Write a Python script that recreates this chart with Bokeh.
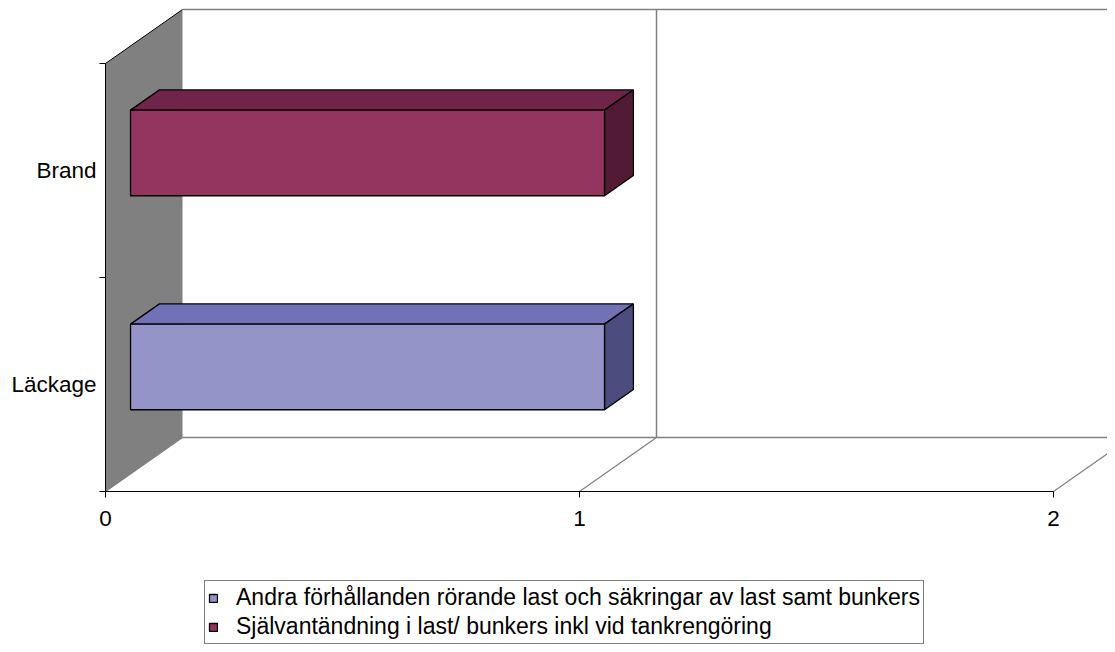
from bokeh.plotting import figure
from bokeh.models import Range1d, FixedTicker, LinearAxis, Legend, LegendItem
from bokeh.embed import file_html
from bokeh.resources import INLINE

# ---------------- data ----------------
categories = ["Läckage", "Brand"]
series_names = [
    "Andra förhållanden rörande last och säkringar av last samt bunkers",
    "Självantändning i last/ bunkers inkl vid tankrengöring",
]
andra_values = [1, 0]
sjalv_values = [0, 1]
x_ticks = [0, 1, 2]
x_tick_labels = ["0", "1", "2"]

# ---------------- style ----------------
front_colors = ["#9494C9", "#943560"]
top_colors = ["#7171B6", "#702448"]
side_colors = ["#4C4C7F", "#531A35"]
FONT = "Liberation Sans"

W, H = 1107, 644
ORIGIN_X, ORIGIN_Y = 105, 491           # pixel position of value 0 / category floor
PX_X, PX_Y = 474.0, 214.0
x_start, x_end = -ORIGIN_X / PX_X, (W - ORIGIN_X) / PX_X
y_start, y_end = (ORIGIN_Y - H) / PX_Y, ORIGIN_Y / PX_Y
DX, DY = 77 / PX_X, 54 / PX_Y          # full depth of the 3D box in data units
D0, D1 = 0.325, 0.70                    # bar depth position (fraction of depth)
HALF = 0.2                              # half bar height in category units
n_cat = len(categories)
xmax = x_ticks[-1]

p = figure(width=W, height=H, x_range=Range1d(x_start, x_end), y_range=Range1d(y_start, y_end),
           output_backend="svg", toolbar_location=None,
           min_border_left=0, min_border_bottom=0, min_border_top=0, min_border_right=0,
           x_axis_type=None, y_axis_type=None)
p.outline_line_color = None
p.background_fill_color = "white"

# left wall
p.patch([0, 0, DX, DX], [0, n_cat, n_cat + DY, DY], fill_color="#808080", line_color=None)
p.line([0, DX], [n_cat, n_cat + DY], line_color="black", line_width=1)

# back wall edges and gridlines
p.segment(x0=[DX], y0=[n_cat + DY], x1=[xmax + DX], y1=[n_cat + DY], line_color="#808080", line_width=1.5)
p.segment(x0=[DX], y0=[DY], x1=[xmax + DX], y1=[DY], line_color="#808080", line_width=1.5)
gx = [t + DX for t in x_ticks if t > 0]
p.segment(x0=gx, y0=[DY] * len(gx), x1=gx, y1=[n_cat + DY] * len(gx), line_color="#808080", line_width=1.5)
# floor diagonals
p.segment(x0=x_ticks, y0=[0] * len(x_ticks), x1=[t + DX for t in x_ticks], y1=[DY] * len(x_ticks),
          line_color="#808080", line_width=1.2)

# bars
front_renderers = []
for s, vals in enumerate([andra_values, sjalv_values]):
    fx, fy, tx, ty, sx, sy = [], [], [], [], [], []
    for i, v in enumerate(vals):
        if v <= 0:
            continue
        b, t = i + 0.5 - HALF, i + 0.5 + HALF
        ox0, oy0, ox1, oy1 = D0 * DX, D0 * DY, D1 * DX, D1 * DY
        fx.append([0 + ox0, v + ox0, v + ox0, 0 + ox0])
        fy.append([b + oy0, b + oy0, t + oy0, t + oy0])
        tx.append([0 + ox0, v + ox0, v + ox1, 0 + ox1])
        ty.append([t + oy0, t + oy0, t + oy1, t + oy1])
        sx.append([v + ox0, v + ox1, v + ox1, v + ox0])
        sy.append([b + oy0, b + oy1, t + oy1, t + oy0])
    p.patches(tx, ty, fill_color=top_colors[s], line_color="black", line_width=1.3)
    p.patches(sx, sy, fill_color=side_colors[s], line_color="black", line_width=1.3)
    r = p.patches(fx, fy, fill_color=front_colors[s], line_color="black", line_width=1.3)
    front_renderers.append(r)

# axes (drawn at the front plane of the 3D box)
xaxis = LinearAxis(ticker=FixedTicker(ticks=x_ticks, minor_ticks=[]), bounds=(0, xmax), fixed_location=0,
                   major_label_overrides={t: l for t, l in zip(x_ticks, x_tick_labels)},
                   major_tick_out=6, major_tick_in=0, minor_tick_out=0, minor_tick_in=0,
                   major_label_standoff=13, axis_line_color="black", major_tick_line_color="black",
                   major_label_text_font=FONT, major_label_text_font_size="22.5px",
                   major_label_text_color="black")
p.add_layout(xaxis, "below")

yaxis = LinearAxis(ticker=FixedTicker(ticks=[i + 0.5 for i in range(n_cat)],
                                      minor_ticks=list(range(n_cat + 1))),
                   bounds=(0, n_cat), fixed_location=0,
                   major_label_overrides={i + 0.5: c for i, c in enumerate(categories)},
                   major_tick_out=0, major_tick_in=0, minor_tick_out=6, minor_tick_in=0,
                   major_label_standoff=3, axis_line_color="black", minor_tick_line_color="black",
                   major_label_text_font=FONT, major_label_text_font_size="22.5px",
                   major_label_text_color="black")
p.add_layout(yaxis, "left")

# legend: location = (left, bottom) in screen px from the frame's bottom-left corner
legend = Legend(items=[LegendItem(label=n, renderers=[r]) for n, r in zip(series_names, front_renderers)],
                location=(204, 0), padding=3, spacing=2, margin=0,
                glyph_width=10, glyph_height=10, label_standoff=18, label_height=20,
                label_text_font=FONT, label_text_font_size="23px", label_text_color="black",
                border_line_color="black", border_line_width=1,
                background_fill_color="white", background_fill_alpha=1.0)
p.add_layout(legend, "center")

open("out.html", "w").write(file_html(p, INLINE))
